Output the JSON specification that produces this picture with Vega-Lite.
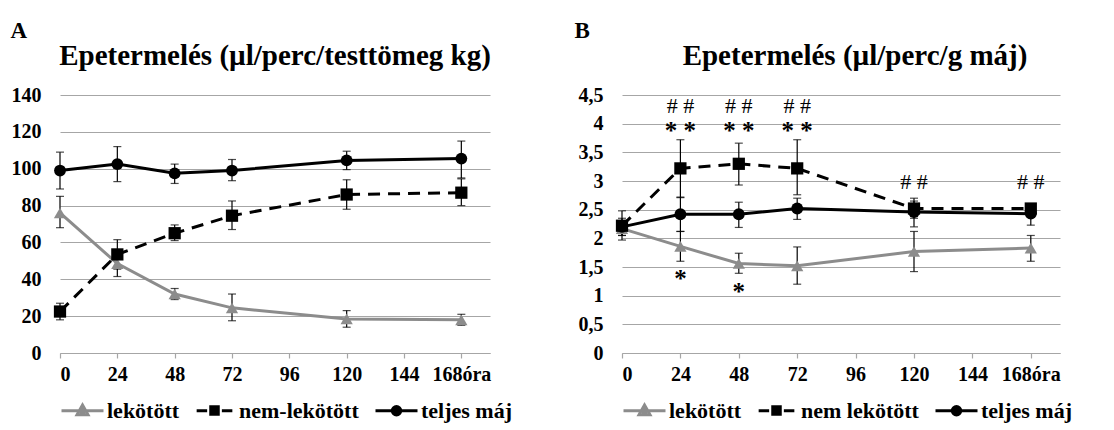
{
  "$schema": "https://vega.github.io/schema/vega-lite/v6.json",
  "background": "white",
  "padding": {"left": 10, "top": 19, "right": 4, "bottom": 4},
  "config": {
    "font": "Liberation Serif",
    "view": {"stroke": null},
    "axis": {
      "labelFont": "Liberation Serif", "labelFontWeight": "bold", "labelFontSize": 20, "labelColor": "black", "labelOverlap": false,
      "gridColor": "#a6a6a6", "gridWidth": 1.2, "domainColor": "#a6a6a6", "domainWidth": 1.2, "tickColor": "#a6a6a6", "tickWidth": 1.2,
      "titleFont": "Liberation Serif", "titleColor": "black"
    },
    "legend": {
      "labelFont": "Liberation Serif", "labelFontWeight": "bold", "labelFontSize": 22, "labelColor": "black",
      "orient": "bottom", "direction": "horizontal", "symbolSize": 1764, "symbolStrokeWidth": 3,
      "labelOffset": 2, "columnPadding": 10, "offset": 4
    },
    "title": {"font": "Liberation Serif", "fontSize": 29, "fontWeight": "bold", "color": "black", "offset": -52}
  },
  "spacing": 61,
  "resolve": {"scale": {"color": "independent", "shape": "independent"}, "legend": {"color": "independent", "shape": "independent"}},
  "hconcat": [
    {
      "width": 430, "height": 258,
      "title": {"text": "Epetermelés (µl/perc/testtömeg kg)", "anchor": "middle"},
      "data": {"values": [
        {"ora": 0, "series": "lekötött", "v": 76, "lo": 68, "hi": 85},
        {"ora": 24, "series": "lekötött", "v": 48.5, "lo": 41.5, "hi": 55.5},
        {"ora": 48, "series": "lekötött", "v": 32, "lo": 29, "hi": 35},
        {"ora": 72, "series": "lekötött", "v": 24.5, "lo": 17.5, "hi": 32},
        {"ora": 120, "series": "lekötött", "v": 18.5, "lo": 14, "hi": 23},
        {"ora": 168, "series": "lekötött", "v": 18, "lo": 15, "hi": 21},
        {"ora": 0, "series": "nem-lekötött", "v": 22.5, "lo": 18, "hi": 27},
        {"ora": 24, "series": "nem-lekötött", "v": 53.5, "lo": 45.5, "hi": 61.5},
        {"ora": 48, "series": "nem-lekötött", "v": 65, "lo": 61, "hi": 69.5},
        {"ora": 72, "series": "nem-lekötött", "v": 74.5, "lo": 67, "hi": 82.5},
        {"ora": 120, "series": "nem-lekötött", "v": 86, "lo": 78, "hi": 94},
        {"ora": 168, "series": "nem-lekötött", "v": 87, "lo": 80, "hi": 94.5},
        {"ora": 0, "series": "teljes máj", "v": 99, "lo": 89, "hi": 109},
        {"ora": 24, "series": "teljes máj", "v": 102.5, "lo": 93, "hi": 112},
        {"ora": 48, "series": "teljes máj", "v": 97.5, "lo": 92, "hi": 102.5},
        {"ora": 72, "series": "teljes máj", "v": 99, "lo": 93.5, "hi": 105},
        {"ora": 120, "series": "teljes máj", "v": 104.5, "lo": 99.5, "hi": 109.5},
        {"ora": 168, "series": "teljes máj", "v": 105.5, "lo": 95, "hi": 115}
      ]},
      "encoding": {
        "x": {"field": "ora", "type": "quantitative", "scale": {"domain": [0, 180], "nice": false},
          "axis": {"values": [0, 24, 48, 72, 96, 120, 144, 168], "grid": false, "tickSize": 5, "labelPadding": 6, "title": null,
            "labelExpr": "datum.value === 168 ? '168óra' : datum.label"}},
        "y": {"field": "v", "type": "quantitative", "scale": {"domain": [0, 140], "nice": false},
          "axis": {"values": [0, 20, 40, 60, 80, 100, 120, 140], "grid": true, "domain": false, "ticks": false, "labelPadding": 19,
            "title": "A", "titleFontSize": 23, "titleFontWeight": "bold", "titleAngle": 0, "titleAlign": "left", "titleBaseline": "alphabetic", "titleX": -50, "titleY": -58}}
      },
      "layer": [
        {
          "transform": [{"filter": "datum.series === 'lekötött'"}],
          "mark": {"type": "line", "strokeWidth": 3, "color": "#8c8c8c"},
          "encoding": {}
        },
        {
          "transform": [{"filter": "datum.series === 'nem-lekötött'"}],
          "mark": {"type": "line", "strokeWidth": 3, "color": "black", "strokeDash": [12, 8]},
          "encoding": {}
        },
        {
          "transform": [{"filter": "datum.series === 'teljes máj'"}],
          "mark": {"type": "line", "strokeWidth": 3, "color": "black"},
          "encoding": {}
        },
        {
          "mark": {"type": "errorbar", "ticks": {"size": 8, "color": "black"}, "color": "black", "thickness": 1.2},
          "encoding": {
            "y": {"field": "lo", "type": "quantitative",
              "axis": {"values": [0, 20, 40, 60, 80, 100, 120, 140], "grid": true, "domain": false, "ticks": false, "labelPadding": 19,
                "title": "A", "titleFontSize": 23, "titleFontWeight": "bold", "titleAngle": 0, "titleAlign": "left", "titleBaseline": "alphabetic", "titleX": -50, "titleY": -58}},
            "y2": {"field": "hi"}
          }
        },
        {
          "transform": [{"filter": "datum.series === 'lekötött'"}],
          "mark": {"type": "point", "shape": "triangle-up", "filled": true, "opacity": 1, "size": 150, "color": "#8c8c8c"},
          "encoding": {}
        },
        {
          "transform": [{"filter": "datum.series === 'nem-lekötött'"}],
          "mark": {"type": "point", "shape": "square", "filled": true, "opacity": 1, "size": 150, "color": "black"},
          "encoding": {}
        },
        {
          "transform": [{"filter": "datum.series === 'teljes máj'"}],
          "mark": {"type": "point", "shape": "circle", "filled": true, "opacity": 1, "size": 140, "color": "black"},
          "encoding": {}
        },
        {
          "transform": [{"filter": "false"}],
          "mark": {"type": "point", "filled": false, "opacity": 1, "strokeWidth": 3},
          "encoding": {
            "color": {"field": "series", "type": "nominal", "scale": {"domain": ["lekötött", "nem-lekötött", "teljes máj"], "range": ["#8c8c8c", "black", "black"]},
              "legend": {"title": null}},
            "shape": {"field": "series", "type": "nominal", "scale": {"domain": ["lekötött", "nem-lekötött", "teljes máj"], "range": [
              "M-1,0H1M0,-0.27L0.26,0.19L-0.26,0.19ZM-0.12,0.07H0.12M0,-0.12V0.15",
              "M-0.85,0H-0.35M0.35,0H0.85M-0.25,-0.19H0.25M-0.25,-0.07H0.25M-0.25,0.05H0.25M-0.25,0.17H0.25",
              "M-1,0H1M0.2,0A0.2,0.2,0,1,1,-0.2,0A0.2,0.2,0,1,1,0.2,0M0.08,0A0.08,0.08,0,1,1,-0.08,0A0.08,0.08,0,1,1,0.08,0"]},
              "legend": {"title": null}}
          }
        }
      ]
    },
    {
      "width": 438, "height": 258,
      "title": {"text": "Epetermelés (µl/perc/g máj)", "anchor": "middle", "dx": 14},
      "data": {"values": [
        {"ora": 0, "series": "lekötött", "v": 2.17, "lo": 2.05, "hi": 2.3},
        {"ora": 24, "series": "lekötött", "v": 1.86, "lo": 1.6, "hi": 2.12},
        {"ora": 48, "series": "lekötött", "v": 1.56, "lo": 1.39, "hi": 1.74},
        {"ora": 72, "series": "lekötött", "v": 1.52, "lo": 1.2, "hi": 1.85},
        {"ora": 120, "series": "lekötött", "v": 1.77, "lo": 1.42, "hi": 2.12},
        {"ora": 168, "series": "lekötött", "v": 1.83, "lo": 1.6, "hi": 2.05},
        {"ora": 0, "series": "nem lekötött", "v": 2.22, "lo": 1.97, "hi": 2.48},
        {"ora": 24, "series": "nem lekötött", "v": 3.22, "lo": 2.71, "hi": 3.72},
        {"ora": 48, "series": "nem lekötött", "v": 3.3, "lo": 2.93, "hi": 3.66},
        {"ora": 72, "series": "nem lekötött", "v": 3.22, "lo": 2.76, "hi": 3.72},
        {"ora": 120, "series": "nem lekötött", "v": 2.52, "lo": 2.35, "hi": 2.7},
        {"ora": 168, "series": "nem lekötött", "v": 2.52, "lo": 2.42, "hi": 2.6},
        {"ora": 0, "series": "teljes máj", "v": 2.2, "lo": 2.05, "hi": 2.35},
        {"ora": 24, "series": "teljes máj", "v": 2.42, "lo": 2.12, "hi": 2.72},
        {"ora": 48, "series": "teljes máj", "v": 2.42, "lo": 2.19, "hi": 2.63},
        {"ora": 72, "series": "teljes máj", "v": 2.52, "lo": 2.33, "hi": 2.7},
        {"ora": 120, "series": "teljes máj", "v": 2.46, "lo": 2.2, "hi": 2.65},
        {"ora": 168, "series": "teljes máj", "v": 2.43, "lo": 2.23, "hi": 2.55}
      ]},
      "encoding": {
        "x": {"field": "ora", "type": "quantitative", "scale": {"domain": [0, 180], "nice": false},
          "axis": {"values": [0, 24, 48, 72, 96, 120, 144, 168], "grid": false, "tickSize": 5, "labelPadding": 6, "title": null,
            "labelExpr": "datum.value === 168 ? '168óra' : datum.label"}},
        "y": {"field": "v", "type": "quantitative", "scale": {"domain": [0, 4.5], "nice": false},
          "axis": {"values": [0, 0.5, 1, 1.5, 2, 2.5, 3, 3.5, 4, 4.5], "grid": true, "domain": false, "ticks": false, "labelPadding": 19,
            "labelExpr": "replace(format(datum.value, '.1~f'), '.', ',')",
            "title": "B", "titleFontSize": 23, "titleFontWeight": "bold", "titleAngle": 0, "titleAlign": "left", "titleBaseline": "alphabetic", "titleX": -48, "titleY": -58}}
      },
      "layer": [
        {
          "transform": [{"filter": "datum.series === 'lekötött'"}],
          "mark": {"type": "line", "strokeWidth": 3, "color": "#8c8c8c"},
          "encoding": {}
        },
        {
          "transform": [{"filter": "datum.series === 'nem lekötött'"}],
          "mark": {"type": "line", "strokeWidth": 3, "color": "black", "strokeDash": [12, 8]},
          "encoding": {}
        },
        {
          "transform": [{"filter": "datum.series === 'teljes máj'"}],
          "mark": {"type": "line", "strokeWidth": 3, "color": "black"},
          "encoding": {}
        },
        {
          "mark": {"type": "errorbar", "ticks": {"size": 8, "color": "black"}, "color": "black", "thickness": 1.2},
          "encoding": {
            "y": {"field": "lo", "type": "quantitative",
              "axis": {"values": [0, 0.5, 1, 1.5, 2, 2.5, 3, 3.5, 4, 4.5], "grid": true, "domain": false, "ticks": false, "labelPadding": 19,
                "labelExpr": "replace(format(datum.value, '.1~f'), '.', ',')",
                "title": "B", "titleFontSize": 23, "titleFontWeight": "bold", "titleAngle": 0, "titleAlign": "left", "titleBaseline": "alphabetic", "titleX": -48, "titleY": -58}},
            "y2": {"field": "hi"}
          }
        },
        {
          "transform": [{"filter": "datum.series === 'lekötött'"}],
          "mark": {"type": "point", "shape": "triangle-up", "filled": true, "opacity": 1, "size": 150, "color": "#8c8c8c"},
          "encoding": {}
        },
        {
          "transform": [{"filter": "datum.series === 'nem lekötött'"}],
          "mark": {"type": "point", "shape": "square", "filled": true, "opacity": 1, "size": 150, "color": "black"},
          "encoding": {}
        },
        {
          "transform": [{"filter": "datum.series === 'teljes máj'"}],
          "mark": {"type": "point", "shape": "circle", "filled": true, "opacity": 1, "size": 140, "color": "black"},
          "encoding": {}
        },
        {
          "data": {"values": [
            {"ora": 24, "v": 4.3, "jel": "# #"},
            {"ora": 48, "v": 4.3, "jel": "# #"},
            {"ora": 72, "v": 4.3, "jel": "# #"},
            {"ora": 120, "v": 2.98, "jel": "# #"},
            {"ora": 168, "v": 2.98, "jel": "# #"}
          ]},
          "mark": {"type": "text", "font": "Liberation Serif", "fontSize": 22, "color": "black", "baseline": "alphabetic", "dy": 7},
          "encoding": {"text": {"field": "jel"}}
        },
        {
          "data": {"values": [
            {"ora": 24, "v": 3.95, "jel": "* *"},
            {"ora": 48, "v": 3.95, "jel": "* *"},
            {"ora": 72, "v": 3.95, "jel": "* *"},
            {"ora": 24, "v": 1.36, "jel": "*"},
            {"ora": 48, "v": 1.13, "jel": "*"}
          ]},
          "mark": {"type": "text", "font": "Liberation Serif", "fontSize": 25, "fontWeight": "bold", "color": "black", "baseline": "alphabetic", "dy": 12},
          "encoding": {"text": {"field": "jel"}}
        },
        {
          "transform": [{"filter": "false"}],
          "mark": {"type": "point", "filled": false, "opacity": 1, "strokeWidth": 3},
          "encoding": {
            "color": {"field": "series", "type": "nominal", "scale": {"domain": ["lekötött", "nem lekötött", "teljes máj"], "range": ["#8c8c8c", "black", "black"]},
              "legend": {"title": null}},
            "shape": {"field": "series", "type": "nominal", "scale": {"domain": ["lekötött", "nem lekötött", "teljes máj"], "range": [
              "M-1,0H1M0,-0.27L0.26,0.19L-0.26,0.19ZM-0.12,0.07H0.12M0,-0.12V0.15",
              "M-0.85,0H-0.35M0.35,0H0.85M-0.25,-0.19H0.25M-0.25,-0.07H0.25M-0.25,0.05H0.25M-0.25,0.17H0.25",
              "M-1,0H1M0.2,0A0.2,0.2,0,1,1,-0.2,0A0.2,0.2,0,1,1,0.2,0M0.08,0A0.08,0.08,0,1,1,-0.08,0A0.08,0.08,0,1,1,0.08,0"]},
              "legend": {"title": null}}
          }
        }
      ]
    }
  ]
}
